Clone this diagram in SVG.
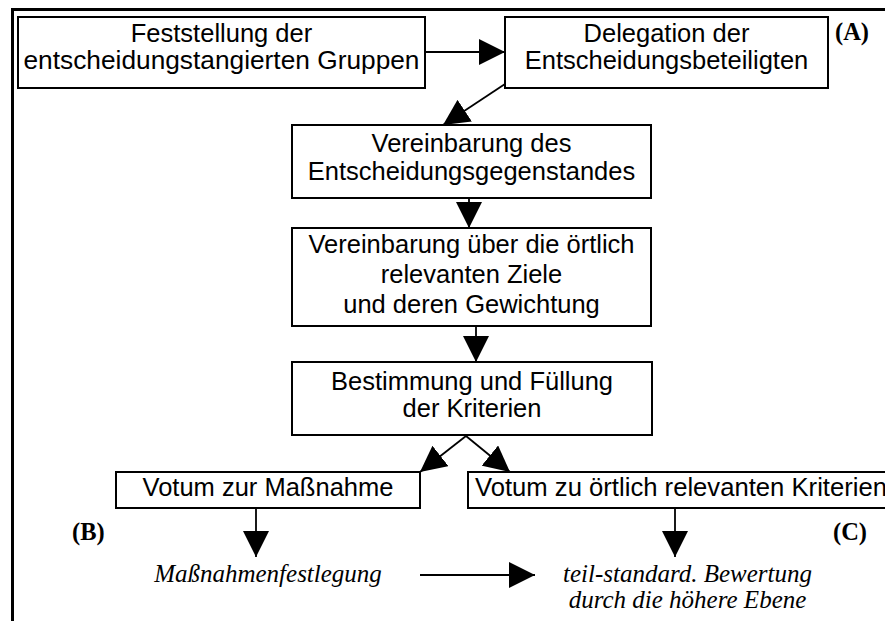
<svg xmlns="http://www.w3.org/2000/svg" width="885" height="621" viewBox="0 0 885 621">
  <style>
    .box { fill: #fff; stroke: #000; stroke-width: 2; }
    .lbl { font-family: "Liberation Sans", Arial, sans-serif; font-size: 25.5px; fill: #000; text-anchor: middle; }
    .res { font-family: "Liberation Serif", "Times New Roman", serif; font-size: 25px; font-style: italic; fill: #000; text-anchor: middle; }
    .tag { font-family: "Liberation Serif", "Times New Roman", serif; font-size: 24.5px; font-weight: bold; fill: #000; }
    .edge { fill: none; stroke: #000; stroke-width: 1.8; marker-end: url(#head); }
  </style>
  <defs>
    <marker id="head" viewBox="0 0 26 26" refX="26" refY="13" markerWidth="26" markerHeight="26" markerUnits="userSpaceOnUse" orient="auto">
      <path d="M0,0 L26,13 L0,26 z" fill="#000"/>
    </marker>
  </defs>

  <rect width="885" height="621" fill="#fff"/>

  <!-- frame -->
  <path d="M12.5,621 V9.5 H885" fill="none" stroke="#000" stroke-width="3"/>

  <!-- connectors -->
  <g id="connectors">
    <line class="edge" x1="425" y1="52" x2="505" y2="52"/>
    <line class="edge" x1="505" y1="84" x2="443" y2="125"/>
    <line class="edge" x1="469" y1="198" x2="469" y2="228"/>
    <line class="edge" x1="476" y1="326" x2="476" y2="362"/>
    <line class="edge" x1="466" y1="436" x2="420" y2="472"/>
    <line class="edge" x1="466" y1="436" x2="510" y2="472"/>
    <line class="edge" x1="256" y1="508" x2="256" y2="557"/>
    <line class="edge" x1="675" y1="508" x2="675" y2="557"/>
    <line class="edge" x1="420" y1="575" x2="535" y2="575"/>
  </g>

  <g id="n1">
    <rect class="box" x="18" y="17" width="407" height="71"/>
    <text class="lbl" x="221.5" y="42">Feststellung der</text>
    <text class="lbl" x="221.5" y="69" textLength="396" lengthAdjust="spacingAndGlyphs">entscheidungstangierten Gruppen</text>
  </g>

  <g id="n2">
    <rect class="box" x="505" y="17" width="323" height="71"/>
    <text class="lbl" x="666.5" y="42">Delegation der</text>
    <text class="lbl" x="666.5" y="69">Entscheidungsbeteiligten</text>
  </g>

  <g id="n3">
    <rect class="box" x="292" y="125" width="359" height="73"/>
    <text class="lbl" x="471.5" y="152">Vereinbarung des</text>
    <text class="lbl" x="471.5" y="180">Entscheidungsgegenstandes</text>
  </g>

  <g id="n4">
    <rect class="box" x="292" y="228" width="359" height="98"/>
    <text class="lbl" x="471.5" y="253">Vereinbarung über die örtlich</text>
    <text class="lbl" x="471.5" y="283">relevanten Ziele</text>
    <text class="lbl" x="471.5" y="313">und deren Gewichtung</text>
  </g>

  <g id="n5">
    <rect class="box" x="292" y="362" width="360" height="73"/>
    <text class="lbl" x="472" y="390">Bestimmung und Füllung</text>
    <text class="lbl" x="472" y="417">der Kriterien</text>
  </g>

  <g id="n6">
    <rect class="box" x="116" y="472" width="304" height="36"/>
    <text class="lbl" x="268" y="496">Votum zur Maßnahme</text>
  </g>

  <g id="n7">
    <rect class="box" x="468" y="472" width="430" height="36"/>
    <text class="lbl" x="475" y="496" style="text-anchor:start" textLength="412" lengthAdjust="spacingAndGlyphs">Votum zu örtlich relevanten Kriterien</text>
  </g>

  <g id="n8">
    <text class="res" x="268" y="582">Maßnahmenfestlegung</text>
  </g>

  <g id="n9">
    <text class="res" x="687.5" y="582">teil-standard. Bewertung</text>
    <text class="res" x="687.5" y="608">durch die höhere Ebene</text>
  </g>

  <g id="tags">
    <text class="tag" x="835" y="40">(A)</text>
    <text class="tag" x="72" y="540">(B)</text>
    <text class="tag" x="833" y="540">(C)</text>
  </g>
</svg>
